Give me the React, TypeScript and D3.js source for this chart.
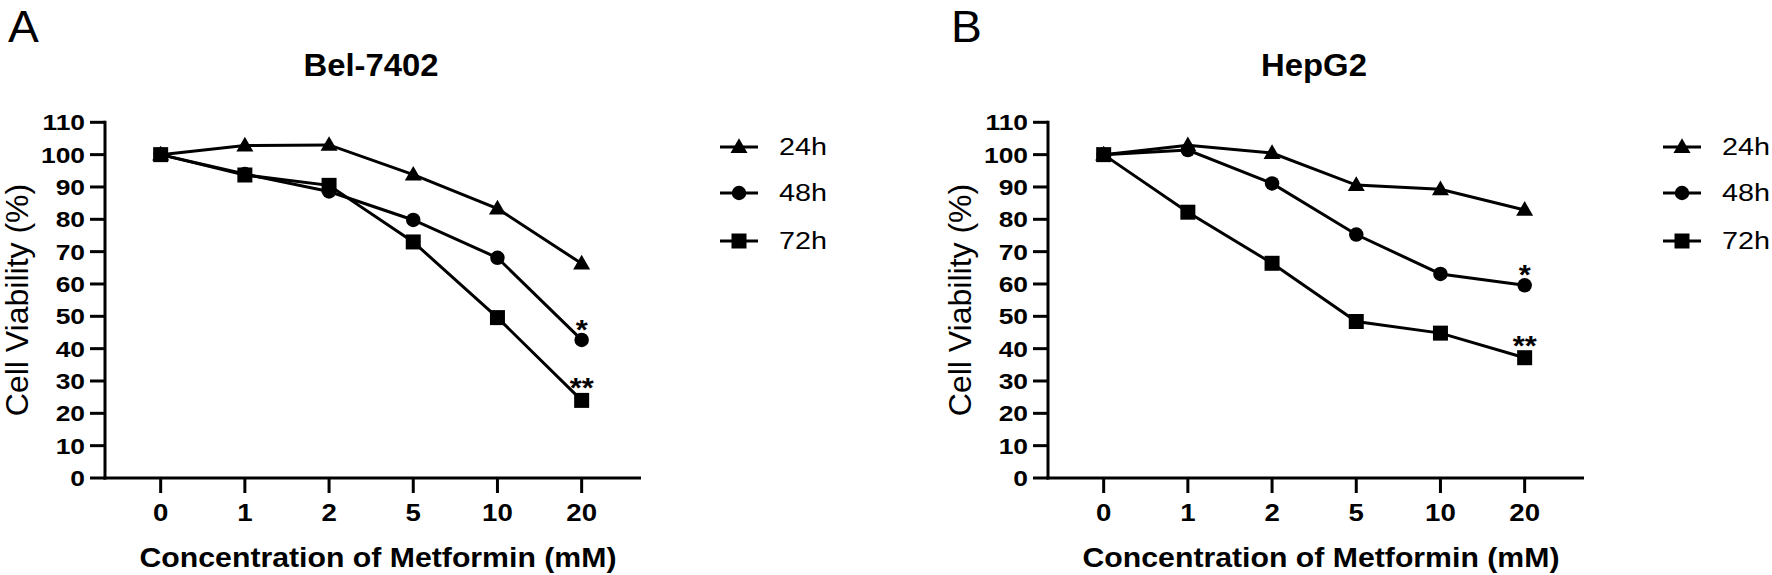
import React from "react";
import * as d3 from "d3";

const concentrations = ["0", "1", "2", "5", "10", "20"];
const yTicks = [0, 10, 20, 30, 40, 50, 60, 70, 80, 90, 100, 110];
const timeLabels = ["24h", "48h", "72h"];
const panelLetters = ["A", "B"];
const panelTitles = ["Bel-7402", "HepG2"];

const bel24 = [100, 102.8, 103, 93.8, 83.3, 66.3];
const bel48 = [100, 94, 88.6, 79.8, 68.1, 42.7];
const bel72 = [100, 93.7, 90.5, 73, 49.6, 24];
const hep24 = [100, 102.9, 100.5, 90.6, 89.3, 82.9];
const hep48 = [100, 101.4, 91.1, 75.3, 63.1, 59.6];
const hep72 = [100, 82.2, 66.4, 48.4, 44.8, 37.2];
const significance = ["", "*", "**"];

const FONT = "Arial, 'Liberation Sans', Helvetica, sans-serif";

function Txt({ x, y, anchor = "start", size, weight = "normal", sx = 1, rotate = 0, children }: any) {
  return (
    <text
      transform={`translate(${x},${y}) rotate(${rotate}) scale(${sx},1)`}
      textAnchor={anchor}
      fontSize={size}
      fontWeight={weight}
      fontFamily={FONT}
      fill="#000"
    >
      {children}
    </text>
  );
}

const symbolTypes = [d3.symbolTriangle, d3.symbolCircle, d3.symbolSquare];
const symbolSizes = [125, 165, 225];

function Panel({ offset, letter, title, series }: any) {
  const x = d3
    .scalePoint<string>()
    .domain(concentrations)
    .range([105 + offset, 641 + offset])
    .padding(0.683)
    .align(0.484);
  const y = d3.scaleLinear().domain([0, 110]).range([478, 122.3]);
  const line = d3
    .line<number>()
    .x((_, i) => x(concentrations[i]) as number)
    .y((d) => y(d));
  const axisX0 = 105 + offset;
  const axisX1 = 641 + offset;
  const legendX = 720 + offset;
  const legendRows = [147, 193, 241];

  return (
    <g>
      <Txt x={8 + offset} y={42} size={44} sx={1.05}>{letter}</Txt>
      <Txt x={371 + offset} y={76} anchor="middle" size={31} weight="bold" sx={1.06}>{title}</Txt>

      {/* y axis */}
      <line x1={axisX0} x2={axisX0} y1={y(110)} y2={y(0)} stroke="#000" strokeWidth={3} strokeLinecap="square" />
      {yTicks.map((t) => (
        <g key={t}>
          <line x1={axisX0 - 15} x2={axisX0} y1={y(t)} y2={y(t)} stroke="#000" strokeWidth={3} />
          <Txt x={axisX0 - 20} y={y(t) + 8} anchor="end" size={22} weight="bold" sx={1.2}>{t}</Txt>
        </g>
      ))}
      {/* x axis */}
      <line x1={axisX0 - 1.5} x2={axisX1} y1={y(0)} y2={y(0)} stroke="#000" strokeWidth={3} />
      {concentrations.map((c) => (
        <g key={c}>
          <line x1={x(c)} x2={x(c)} y1={y(0)} y2={y(0) + 15} stroke="#000" strokeWidth={3} />
          <Txt x={x(c)} y={521} anchor="middle" size={23} weight="bold" sx={1.2}>{c}</Txt>
        </g>
      ))}
      <Txt x={378 + offset} y={567} anchor="middle" size={27} weight="bold" sx={1.12}>
        Concentration of Metformin (mM)
      </Txt>
      <Txt x={28 + offset} y={300} anchor="middle" size={32} rotate={-90}>
        Cell Viability (%)
      </Txt>

      {/* series */}
      {series.map((vals: number[], si: number) => (
        <g key={si}>
          <path d={line(vals) as string} fill="none" stroke="#000" strokeWidth={3} />
          {vals.map((v, i) => (
            <path
              key={i}
              d={d3.symbol().type(symbolTypes[si]).size(symbolSizes[si])() as string}
              transform={`translate(${x(concentrations[i])},${y(v) + (si === 0 ? 1 : 0)})`}
              fill="#000"
            />
          ))}
          {significance[si] && (
            <Txt
              x={x(concentrations[5])}
              y={y(vals[5]) - (si === 2 ? 3 : 1)}
              anchor="middle"
              size={28}
              weight="bold"
              sx={1.1}
            >
              {significance[si]}
            </Txt>
          )}
        </g>
      ))}

      {/* legend */}
      {timeLabels.map((lab, i) => (
        <g key={lab}>
          <line x1={legendX} x2={legendX + 38} y1={legendRows[i]} y2={legendRows[i]} stroke="#000" strokeWidth={3} />
          <path
            d={d3.symbol().type(symbolTypes[i]).size(symbolSizes[i])() as string}
            transform={`translate(${legendX + 19},${legendRows[i] + (i === 0 ? 1 : 0)})`}
            fill="#000"
          />
          <Txt x={legendX + 59} y={legendRows[i] + 8} size={23} sx={1.25}>{lab}</Txt>
        </g>
      ))}
    </g>
  );
}

export default function App() {
  const panels = [
    { offset: 0, series: [bel24, bel48, bel72] },
    { offset: 943, series: [hep24, hep48, hep72] },
  ];
  return (
    <svg
      width={1772}
      height={575}
      style={{ position: "absolute", left: 0, top: 0, background: "#fff" }}
    >
      <rect width={1772} height={575} fill="#fff" />
      {panels.map((p, i) => (
        <Panel key={i} offset={p.offset} letter={panelLetters[i]} title={panelTitles[i]} series={p.series} />
      ))}
    </svg>
  );
}
